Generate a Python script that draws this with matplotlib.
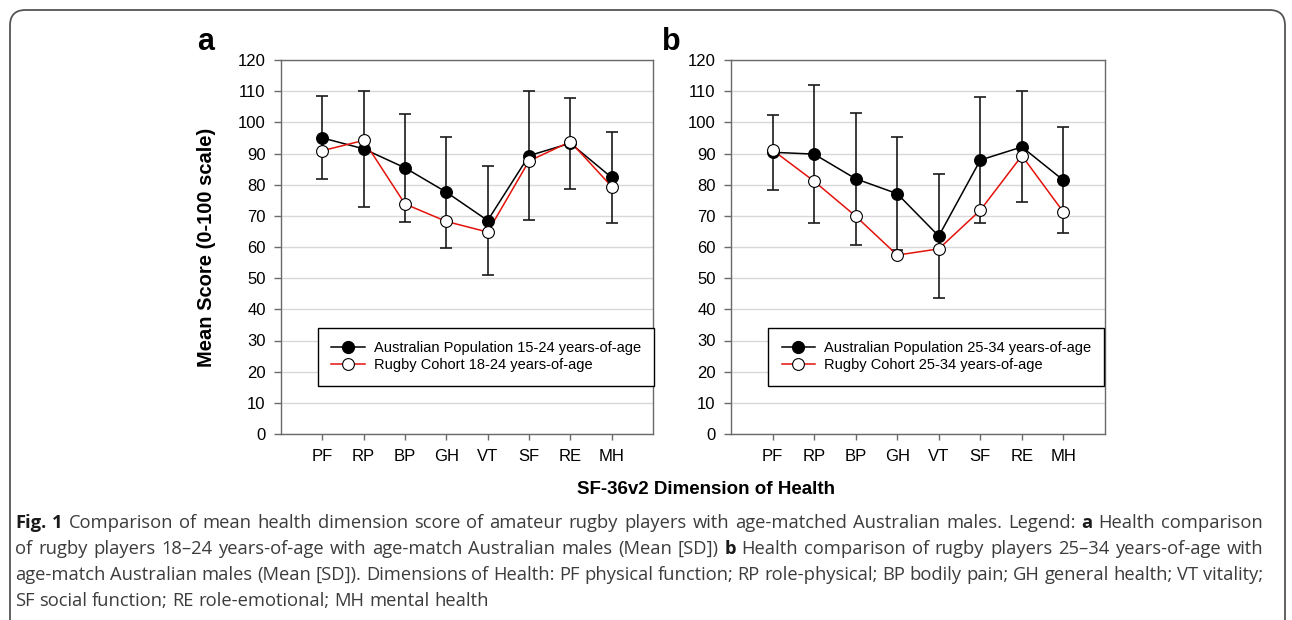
import matplotlib
matplotlib.use("Agg")
import matplotlib.pyplot as plt
from matplotlib.patches import FancyBboxPatch
from matplotlib.lines import Line2D
from matplotlib import font_manager

# ---------------- data ----------------
dimensions = ["PF", "RP", "BP", "GH", "VT", "SF", "RE", "MH"]

a_aus_mean = [95.0, 91.5, 85.4, 77.6, 68.5, 89.3, 93.3, 82.3]
a_aus_sd = [13.3, 18.6, 17.3, 17.8, 17.5, 20.7, 14.6, 14.6]
a_rugby_mean = [90.9, 94.2, 73.8, 68.2, 64.8, 87.6, 93.8, 79.4]

b_aus_mean = [90.4, 89.8, 81.9, 77.1, 63.5, 87.9, 92.1, 81.4]
b_aus_sd = [12.0, 22.1, 21.2, 18.1, 19.9, 20.2, 17.8, 17.0]
b_rugby_mean = [91.1, 81.1, 69.9, 57.4, 59.4, 71.8, 89.3, 71.2]

a_labels = ["Australian Population 15-24 years-of-age", "Rugby Cohort 18-24 years-of-age"]
b_labels = ["Australian Population 25-34 years-of-age", "Rugby Cohort 25-34 years-of-age"]

y_ticks = list(range(0, 121, 10))

xlabel = "SF-36v2 Dimension of Health"
ylabel = "Mean Score (0-100 scale)"

caption_lines = [
    [("Fig. 1", True), ("Comparison of mean health dimension score of amateur rugby players with age-matched Australian males. Legend:", False),
     ("a", True), ("Health comparison", False)],
    [("of rugby players 18\u201324 years-of-age with age-match Australian males (Mean [SD])", False), ("b", True),
     ("Health comparison of rugby players 25\u201334 years-of-age with", False)],
    [("age-match Australian males (Mean [SD]). Dimensions of Health: PF physical function; RP role-physical; BP bodily pain; GH general health; VT vitality;", False)],
    [("SF social function; RE role-emotional; MH mental health", False)],
]

# ---------------- style ----------------
W, H = 1292, 620
DPI = 100
avail = {f.name for f in font_manager.fontManager.ttflist}
chart_font = "Liberation Sans" if "Liberation Sans" in avail else "DejaVu Sans"
cap_font = "Open Sans" if "Open Sans" in avail else "DejaVu Sans"
plt.rcParams["font.family"] = [chart_font, "DejaVu Sans"]

fig = plt.figure(figsize=(W / DPI, H / DPI), dpi=DPI)

spine_col = "#6a6a6a"
grid_col = "#d8d8d8"


def px2fig(x0, y0, x1, y1):
    return [x0 / W, 1 - y1 / H, (x1 - x0) / W, (y1 - y0) / H]


def draw_panel(rect, aus, sd, rugby, labels, leg_x):
    ax = fig.add_axes(rect)
    x = list(range(1, len(dimensions) + 1))
    ax.errorbar(x, aus, yerr=sd, fmt="none", ecolor="#1a1a1a", elinewidth=1.2,
                capsize=4, capthick=1.2, zorder=2)
    ax.plot(x, aus, color="black", lw=1.1, zorder=3)
    ax.plot(x, rugby, color="#e3120b", lw=1.1, zorder=4)
    ax.plot(x, aus, ls="none", marker="o", ms=8.5, mfc="black", mec="black", mew=0.8, zorder=5)
    ax.plot(x, rugby, ls="none", marker="o", ms=8.5, mfc="white", mec="black", mew=0.8, zorder=6)

    ax.set_xlim(0, 9)
    ax.set_ylim(0, 120)
    ax.set_xticks(x)
    ax.set_xticklabels(dimensions)
    ax.set_yticks(y_ticks)
    ax.yaxis.grid(True, color=grid_col, lw=1.0)
    ax.set_axisbelow(True)
    for s in ax.spines.values():
        s.set_color(spine_col)
        s.set_linewidth(1.0)
    ax.tick_params(axis="y", direction="out", length=5, width=1, color=spine_col,
                   labelsize=12, pad=6)
    ax.tick_params(axis="x", direction="out", length=4, width=1, color=spine_col,
                   labelsize=12, pad=7)

    handles = [
        Line2D([], [], color="black", lw=1.1, marker="o", ms=8.5, mfc="black", mec="black"),
        Line2D([], [], color="#e3120b", lw=1.1, marker="o", ms=8.5, mfc="white", mec="black", mew=0.8),
    ]
    leg = ax.legend(handles, labels, loc="center", bbox_to_anchor=(leg_x, 0.207),
                    fontsize=10.5, frameon=True, fancybox=False, edgecolor="black",
                    framealpha=1, handlelength=2.3, handletextpad=0.6,
                    labelspacing=0.25, borderpad=0.9)
    leg.get_frame().set_linewidth(1.0)
    return ax


ax_a = draw_panel(px2fig(281, 60, 653, 434), a_aus_mean, a_aus_sd, a_rugby_mean, a_labels, 0.551)
ax_b = draw_panel(px2fig(731, 60, 1105, 434), b_aus_mean, b_aus_sd, b_rugby_mean, b_labels, 0.549)

# panel letters
fig.text(206 / W, 1 - 50 / H, "a", fontsize=22, fontweight="bold", ha="center", va="baseline")
fig.text(671 / W, 1 - 50 / H, "b", fontsize=22, fontweight="bold", ha="center", va="baseline")

# axis labels
fig.text(207 / W, 1 - 247 / H, ylabel, fontsize=14.5, fontweight="bold", rotation=90,
         ha="center", va="center")
fig.text(706 / W, 1 - 490 / H, xlabel, fontsize=13.5, fontweight="bold", ha="center", va="center")

# frame around figure
box = FancyBboxPatch((10 / W, -0.05), (1285 - 10) / W, (1 - 10 / H) + 0.05,
                     boxstyle="round,pad=0,rounding_size=0.012", transform=fig.transFigure,
                     fill=False, edgecolor="#555555", lw=1.3, clip_on=False,
                     mutation_aspect=W / H)
fig.patches.append(box)

# caption, justified
fig.canvas.draw()
renderer = fig.canvas.get_renderer()
cap_size = 13.2
x_left, x_right = 15, 1263
baselines = [528, 554, 580, 606]


def tokens_of(line):
    toks = []
    for text, bold in line:
        for w in text.split(" "):
            if w:
                toks.append((w, bold))
    return toks


def measure(word, bold):
    t = fig.text(0, 0, word, fontsize=cap_size, family=[cap_font, "DejaVu Sans"],
                 fontweight="bold" if bold else "normal")
    bb = t.get_window_extent(renderer)
    t.remove()
    return bb.width


space_w = measure("n n", False) - measure("nn", False)

for i, line in enumerate(caption_lines):
    toks = tokens_of(line)
    widths = [measure(w, b) for w, b in toks]
    justify = i < len(caption_lines) - 1
    if justify and len(toks) > 1:
        gap = (x_right - x_left - sum(widths)) / (len(toks) - 1)
    else:
        gap = space_w
    xpos = x_left
    for (w, b), wd in zip(toks, widths):
        fig.text(xpos / W, 1 - baselines[i] / H, w, fontsize=cap_size,
                 family=[cap_font, "DejaVu Sans"], fontweight="bold" if b else "normal",
                 color="#1a1a1a" if b else "#3c3c3c", ha="left", va="baseline")
        xpos += wd + gap

fig.savefig("out.png", dpi=DPI)
